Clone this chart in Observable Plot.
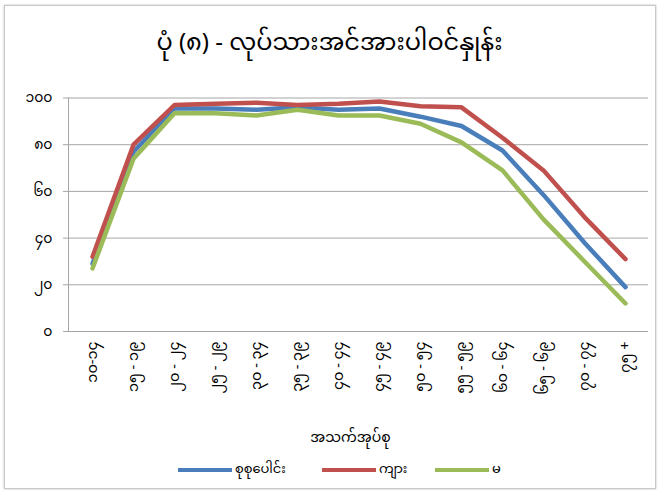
<!DOCTYPE html>
<html>
<head>
<meta charset="utf-8">
<script src="https://cdn.jsdelivr.net/npm/d3@7"></script>
<script src="https://cdn.jsdelivr.net/npm/@observablehq/plot@0.6"></script>
<style>
  html, body { margin: 0; padding: 0; background: #fff; }
  #wrap { position: relative; width: 659px; height: 495px; overflow: hidden; background: #fff;
          font-family: "Noto Sans Myanmar", "Padauk", "Myanmar Text", "Noto Sans", sans-serif; }
  #frame { position: absolute; left: 4px; top: 5px; width: 650px; height: 482px;
           border: 1px solid #c8c8c8; box-shadow: 0 0 2px #bbb; }
  #title { position: absolute; top: 18px; left: 0; width: 659px; text-align: center;
           font-size: 24px; color: #000; }
  #chart { position: absolute; top: 80px; left: 0; }
  #legend { position: absolute; top: 458px; left: 0; width: 659px; height: 24px; font-size: 13px; color: #000; }
  .item { position: absolute; top: 0; display: flex; align-items: center; height: 24px; }
  .sw { display: inline-block; width: 54px; height: 4px; margin-right: 3px; }
</style>
</head>
<body>
<div id="wrap">
  <div id="frame"></div>
  <div id="title">ပုံ (၈) - လုပ်သားအင်အားပါဝင်နှုန်း</div>
  <div id="chart"></div>
  <div id="legend"></div>
</div>
<script>
const ageGroups = ["၁၀-၁၄", "၁၅ - ၁၉", "၂၀ - ၂၄", "၂၅ - ၂၉", "၃၀ - ၃၄", "၃၅ - ၃၉", "၄၀ - ၄၄",
                   "၄၅ - ၄၉", "၅၀ - ၅၄", "၅၅ - ၅၉", "၆၀ - ၆၄", "၆၅ - ၆၉", "၇၀ - ၇၄", "၇၅ +"];
const total  = [29, 77, 95.5, 95.5, 95, 96, 95, 95.5, 92, 88, 77.5, 58.5, 38, 19];
const male   = [32, 80, 97, 97.5, 98, 97, 97.5, 98.5, 96.5, 96, 83, 69, 49, 31];
const female = [27, 74, 93.5, 93.5, 92.5, 95, 92.5, 92.5, 89, 81, 69, 48, 30, 12];
const seriesNames = ["စုစုပေါင်း", "ကျား", "မ"];
const seriesColors = ["#4a7ebb", "#c0504d", "#9bbb59"];
const yTicks = [0, 20, 40, 60, 80, 100];
const yTickLabels = ["၀", "၂၀", "၄၀", "၆၀", "၈၀", "၁၀၀"];
const xTitle = "အသက်အုပ်စု";

const seriesValues = [total, male, female];
const rows = [];
seriesNames.forEach((s, si) => ageGroups.forEach((a, i) => rows.push({series: s, age: a, value: seriesValues[si][i]})));

const chart = Plot.plot({
  width: 659,
  height: 376,
  marginTop: 17.5,
  marginBottom: 125,
  marginLeft: 68,
  marginRight: 11,
  style: {fontFamily: "\"Noto Sans Myanmar\", \"Padauk\", \"Myanmar Text\", \"Noto Sans\", sans-serif", fontSize: "13px", color: "#000"},
  x: {type: "point", domain: ageGroups, padding: 0.5, label: null},
  y: {domain: [0, 100], label: null},
  color: {domain: seriesNames, range: seriesColors},
  marks: [
    Plot.gridY(yTicks, {stroke: "#a6a6a6", strokeOpacity: 1, strokeWidth: 1}),
    Plot.frame({anchor: "left", stroke: "#a6a6a6"}),
    Plot.axisY(yTicks, {tickSize: 5, tickPadding: 11, stroke: "#a6a6a6", fill: "#000",
      tickFormat: (d) => yTickLabels[yTicks.indexOf(d)], fontSize: 14, label: null}),
    Plot.axisX({tickSize: 0, tickPadding: 10, tickRotate: -90, fontSize: 14.5, label: null}),
    Plot.text([xTitle], {frameAnchor: "bottom", dy: 110, dx: -8, fontSize: 14, fill: "#000"}),
    Plot.line(rows, {x: "age", y: "value", stroke: "series", strokeWidth: 4.5, strokeLinejoin: "round", strokeLinecap: "round"})
  ]
});
document.getElementById("chart").appendChild(chart);

const legendLeft = [178, 322, 435];
const legend = document.getElementById("legend");
seriesNames.forEach((s, i) => {
  const it = document.createElement("div");
  it.className = "item";
  it.style.left = legendLeft[i] + "px";
  it.innerHTML = `<span class="sw" style="background:${seriesColors[i]}"></span><span>${s}</span>`;
  legend.appendChild(it);
});
</script>
</body>
</html>
